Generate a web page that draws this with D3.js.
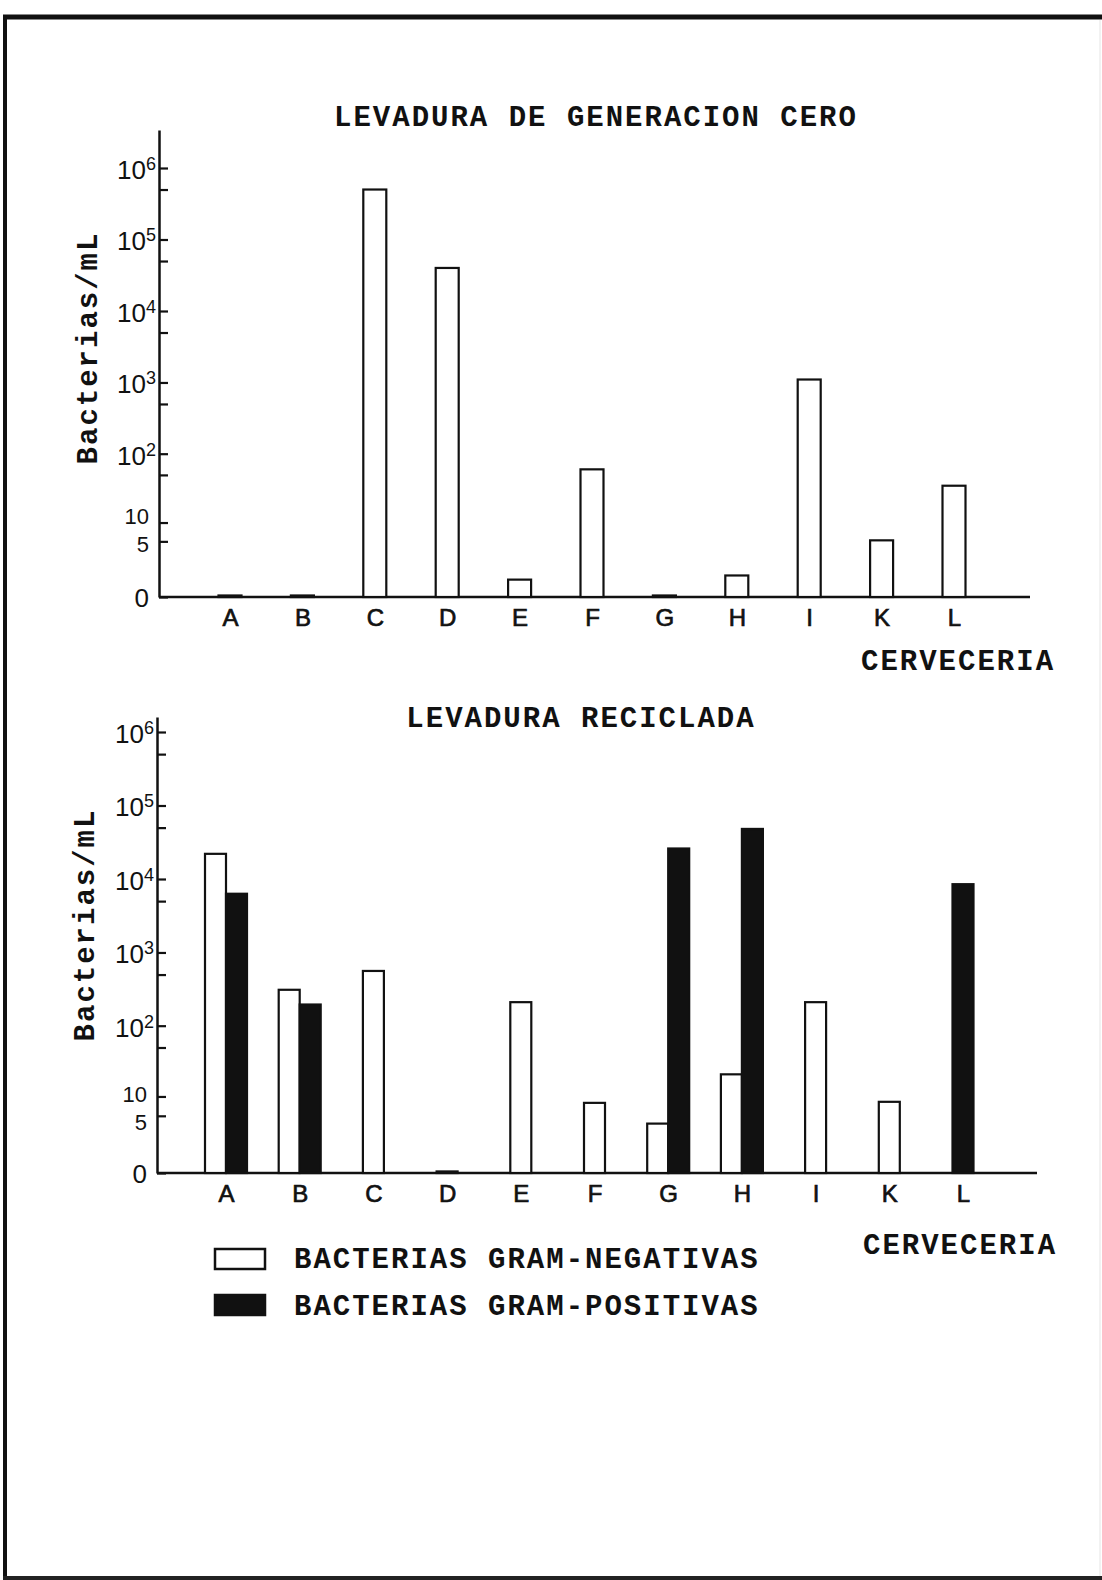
<!DOCTYPE html>
<html>
<head>
<meta charset="utf-8">
<script src="https://cdn.jsdelivr.net/npm/d3@7"></script>
<style>
  body { margin: 0; background: #fff; }
  svg { display: block; }
  .typew { font-family: "Courier New", "Liberation Mono", monospace; font-weight: bold; fill: #111; }
  .tick text { font-family: "Liberation Sans", Arial, sans-serif; fill: #111; }
</style>
</head>
<body>
<svg id="chart" width="1102" height="1580"></svg>
<script>
// cervecerias
var categories = ["A", "B", "C", "D", "E", "F", "G", "H", "I", "K", "L"];

// bacterias/mL, levadura de generacion cero (solo gram-negativas)
var zeroGenNeg = [0.05, 0.05, 5e5, 4e4, 0.75, 60, 0.05, 1, 1100, 5.2, 35];

// bacterias/mL, levadura reciclada
var recycledNeg = [22000, 310, 560, 0.05, 210, 8, 3.7, 21, 210, 8.3, null];
var recycledPos = [6300, 195, null, null, null, null, 26000, 48000, null, null, 8500];

// eje y
var yMajorTicks = [0, 5, 10, 1e2, 1e3, 1e4, 1e5, 1e6];
var yMinorTicks = [50, 500, 5e3, 5e4, 5e5];

var legendLabels = ["BACTERIAS GRAM-NEGATIVAS", "BACTERIAS GRAM-POSITIVAS"];

var svg = d3.select("#chart");

// marco escaneado
svg.append("line").attr("x1", 3).attr("x2", 1102).attr("y1", 17).attr("y2", 17)
  .attr("stroke", "#111").attr("stroke-width", 5);
svg.append("line").attr("x1", 5).attr("x2", 5).attr("y1", 15).attr("y2", 1580)
  .attr("stroke", "#111").attr("stroke-width", 4);
svg.append("line").attr("x1", 3).attr("x2", 1102).attr("y1", 1578).attr("y2", 1578)
  .attr("stroke", "#222").attr("stroke-width", 4);
svg.append("line").attr("x1", 1100).attr("x2", 1100).attr("y1", 20).attr("y2", 1576)
  .attr("stroke", "#eee").attr("stroke-width", 1.5);

function drawPanel(opt) {
  var g = svg.append("g");

  var y = d3.scaleSymlog().constant(1)
    .domain([0, opt.yMax])
    .range([opt.y0, opt.yTop]);

  var x = d3.scalePoint()
    .domain(categories)
    .range(opt.xRange);

  // eje x
  g.append("line")
    .attr("x1", opt.axisX).attr("x2", opt.xEnd)
    .attr("y1", opt.y0).attr("y2", opt.y0)
    .attr("stroke", "#111").attr("stroke-width", 2.5);

  var xAxis = g.append("g")
    .attr("transform", "translate(0," + opt.y0 + ")")
    .call(d3.axisBottom(x).tickSize(0).tickPadding(opt.xPad));
  xAxis.select(".domain").remove();
  xAxis.selectAll(".tick text").attr("font-size", 24).attr("dy", "0.71em")
    .attr("stroke", "#111").attr("stroke-width", 0.7);

  // barras
  var bars = [];
  categories.forEach(function(c, i) {
    var neg = opt.neg[i], pos = opt.pos ? opt.pos[i] : null;
    if (neg != null && pos != null) {
      bars.push({ c: c, v: neg, fill: "#fff", off: -opt.barW });
      bars.push({ c: c, v: pos, fill: "#111", off: 0 });
    } else if (neg != null) {
      bars.push({ c: c, v: neg, fill: "#fff", off: -opt.barW / 2 });
    } else if (pos != null) {
      bars.push({ c: c, v: pos, fill: "#111", off: -opt.barW / 2 });
    }
  });

  g.selectAll("rect.bar").data(bars).enter().append("rect")
    .attr("class", "bar")
    .attr("x", function(d) { return x(d.c) + d.off; })
    .attr("y", function(d) { return y(d.v); })
    .attr("width", opt.barW)
    .attr("height", function(d) { return y(0) - y(d.v); })
    .attr("fill", function(d) { return d.fill; })
    .attr("stroke", "#111")
    .attr("stroke-width", 2.2);

  // eje y
  var yAxis = g.append("g")
    .attr("transform", "translate(" + opt.axisX + ",0)")
    .call(d3.axisLeft(y).tickValues(yMajorTicks).tickSize(-9).tickSizeOuter(0)
      .tickPadding(6).tickFormat(function() { return ""; }));
  yAxis.select(".domain").attr("stroke", "#111").attr("stroke-width", 2.5);
  yAxis.selectAll(".tick line").attr("stroke", "#111").attr("stroke-width", 2.2);
  yAxis.selectAll(".tick text").each(function(d) {
    var t = d3.select(this).attr("font-size", 26);
    if (d <= 10) {
      t.attr("x", -10).text(String(d));
      if (d === 10) t.attr("font-size", 22).attr("y", opt.tenShift);
      if (d === 5) t.attr("font-size", 22).attr("y", opt.fiveShift);
      if (d === 0) t.attr("y", 1);
    } else {
      t.attr("x", -3).attr("y", 2);
      t.append("tspan").text("10");
      t.append("tspan").attr("dy", "-0.5em").attr("font-size", 18)
        .text(String(Math.round(Math.log10(d))));
    }
  });

  var yMinor = g.append("g")
    .attr("transform", "translate(" + opt.axisX + ",0)")
    .call(d3.axisLeft(y).tickValues(yMinorTicks).tickSize(-9).tickSizeOuter(0)
      .tickFormat(function() { return ""; }));
  yMinor.select(".domain").remove();
  yMinor.selectAll(".tick line").attr("stroke", "#111").attr("stroke-width", 2.2);

  // textos
  g.append("text").attr("class", "typew")
    .attr("x", opt.titleX).attr("y", opt.titleY)
    .attr("text-anchor", "middle")
    .attr("font-size", 29).attr("letter-spacing", 2)
    .text(opt.title);

  g.append("text").attr("class", "typew")
    .attr("transform", "translate(" + opt.yLabelX + "," + opt.yLabelY + ") rotate(-90)")
    .attr("text-anchor", "middle")
    .attr("font-size", 29).attr("letter-spacing", 2)
    .text("Bacterias/mL");

  g.append("text").attr("class", "typew")
    .attr("x", opt.xLabelX).attr("y", opt.xLabelY)
    .attr("font-size", 29).attr("letter-spacing", 2)
    .text("CERVECERIA");
}

drawPanel({
  title: "LEVADURA DE GENERACION CERO",
  neg: zeroGenNeg, pos: null,
  yMax: 3.4e6, y0: 597, yTop: 130,
  axisX: 159, xEnd: 1030, xRange: [230, 954], barW: 23, xPad: 12,
  tenShift: -6, fiveShift: 3,
  titleX: 596, titleY: 126,
  yLabelX: 97, yLabelY: 348,
  xLabelX: 861, xLabelY: 670
});

drawPanel({
  title: "LEVADURA RECICLADA",
  neg: recycledNeg, pos: recycledPos,
  yMax: 1.6e6, y0: 1173, yTop: 717,
  axisX: 157, xEnd: 1037, xRange: [226, 963], barW: 21, xPad: 12,
  tenShift: -2, fiveShift: 7,
  titleX: 581, titleY: 727,
  yLabelX: 94, yLabelY: 925,
  xLabelX: 863, xLabelY: 1254
});

// leyenda
var legend = svg.append("g");
legend.selectAll("rect").data(legendLabels).enter().append("rect")
  .attr("x", 215)
  .attr("y", function(d, i) { return 1249 + i * 46; })
  .attr("width", 50).attr("height", 20)
  .attr("fill", function(d, i) { return i ? "#111" : "#fff"; })
  .attr("stroke", "#111").attr("stroke-width", 2.5);
legend.selectAll("text").data(legendLabels).enter().append("text")
  .attr("class", "typew")
  .attr("x", 294)
  .attr("y", function(d, i) { return 1268 + i * 47; })
  .attr("font-size", 29).attr("letter-spacing", 2)
  .text(function(d) { return d; });
</script>
</body>
</html>
